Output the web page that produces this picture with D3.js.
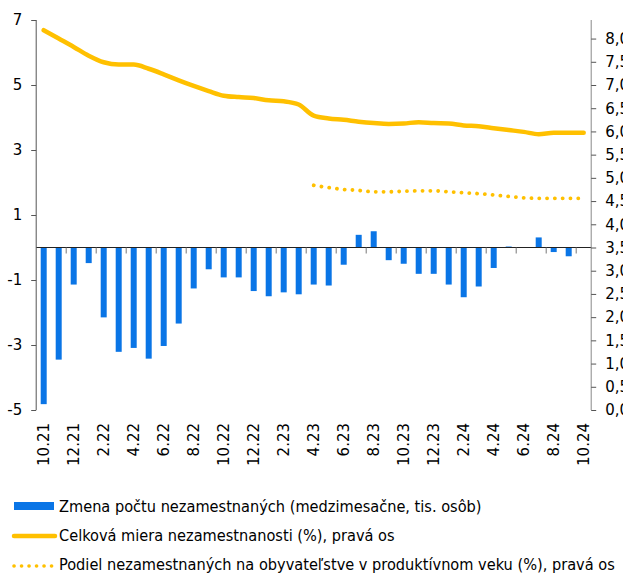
<!DOCTYPE html>
<html>
<head>
<meta charset="utf-8">
<script src="https://cdn.jsdelivr.net/npm/d3@7"></script>
<style>
  body { margin: 0; background: #fff; }
  svg text { font-family: "DejaVu Sans", Verdana, sans-serif; fill: #000; }
</style>
</head>
<body>
<svg width="623" height="576"></svg>
<script>
// months 10.21 .. 10.24
var months = ["10.21","11.21","12.21","1.22","2.22","3.22","4.22","5.22","6.22","7.22","8.22","9.22",
  "10.22","11.22","12.22","1.23","2.23","3.23","4.23","5.23","6.23","7.23","8.23","9.23",
  "10.23","11.23","12.23","1.24","2.24","3.24","4.24","5.24","6.24","7.24","8.24","9.24","10.24"];

// zmena poctu nezamestnanych (tis. osob), left axis
var zmena = [-4.82,-3.45,-1.14,-0.48,-2.15,-3.21,-3.09,-3.42,-3.03,-2.34,-1.26,-0.67,
  -0.92,-0.92,-1.34,-1.50,-1.38,-1.44,-1.14,-1.17,-0.53,0.39,0.50,-0.39,
  -0.50,-0.81,-0.81,-1.14,-1.53,-1.20,-0.63,0.03,0,0.31,-0.14,-0.27,0];

// celkova miera nezamestnanosti (%), right axis
var miera = [8.18,8.00,7.82,7.63,7.49,7.44,7.44,7.35,7.23,7.10,6.98,6.87,
  6.77,6.74,6.72,6.67,6.65,6.58,6.34,6.28,6.25,6.21,6.18,6.16,
  6.17,6.20,6.18,6.17,6.13,6.11,6.07,6.03,5.99,5.94,5.97,5.97,5.97];

// podiel na obyvatelstve v produktivnom veku (%), right axis, from 4.23
var podiel = [null,null,null,null,null,null,null,null,null,null,null,null,
  null,null,null,null,null,null,4.84,4.79,4.75,4.73,4.70,4.70,
  4.71,4.72,4.72,4.70,4.68,4.66,4.63,4.60,4.57,4.56,4.56,4.56,4.56];

var leftTicks = [-5,-3,-1,1,3,5,7];
var rightTicks = d3.range(0, 8.01, 0.5);

var legendLabels = [
  "Zmena počtu nezamestnaných (medzimesačne, tis. osôb)",
  "Celková miera nezamestnanosti (%), pravá os",
  "Podiel nezamestnaných na obyvateľstve v produktívnom veku (%), pravá os"
];

var blue = "#0a75e6", yellow = "#ffc000";

var svg = d3.select("svg");
// plot box (window.top is reserved, so no "top" here)
var pL = 36.2, pR = 591.2, pT = 20, pB = 410;

var xs = d3.scaleLinear().domain([0, months.length]).range([pL, pR]);
var yL = d3.scaleLinear().domain([-5, 7]).range([pB, pT]);
var yR = d3.scaleLinear().domain([0, 8.4]).range([pB, pT]);

// bars
svg.append("g").selectAll("rect")
  .data(zmena)
  .enter().append("rect")
    .attr("x", function(d, i) { return xs(i + 0.5) - 3; })
    .attr("width", 6)
    .attr("y", function(d) { return yL(Math.max(0, d)); })
    .attr("height", function(d) { return Math.abs(yL(d) - yL(0)); })
    .attr("fill", blue);

// category axis at zero
svg.append("line")
  .attr("x1", pL).attr("x2", pR)
  .attr("y1", yL(0)).attr("y2", yL(0))
  .attr("stroke", "#222").attr("stroke-width", 1);
svg.append("g").selectAll("line")
  .data(d3.range(2, months.length, 2))
  .enter().append("line")
    .attr("x1", function(d) { return xs(d); }).attr("x2", function(d) { return xs(d); })
    .attr("y1", yL(0)).attr("y2", yL(0) + 6)
    .attr("stroke", "#777");

// x labels
svg.append("g").selectAll("text")
  .data(months.filter(function(d, i) { return i % 2 === 0; }))
  .enter().append("text")
    .attr("transform", function(d) { return "translate(" + xs(months.indexOf(d) + 0.5) + ",423) rotate(-90)"; })
    .attr("text-anchor", "end")
    .attr("dy", "0.35em")
    .style("font-size", "15px")
    .text(function(d) { return d; });

// left axis (plain hyphen for minus, like the original)
var gl = svg.append("g").attr("transform", "translate(" + pL + ",0)")
  .call(d3.axisLeft(yL).tickValues(leftTicks).tickSize(5).tickPadding(9).tickFormat(function(d) { return String(d); }));
gl.select(".domain").attr("stroke", "#555").attr("d", "M0," + pT + "V" + pB);
gl.selectAll(".tick line").attr("stroke", "#555");
gl.selectAll("text").style("font-size", "15px").attr("font-family", null);

// right axis
var fmt = function(d) { return d3.format(".1f")(d).replace(".", ","); };
var gr = svg.append("g").attr("transform", "translate(" + pR + ",0)")
  .call(d3.axisRight(yR).tickValues(rightTicks).tickSize(5).tickPadding(9).tickFormat(fmt));
gr.select(".domain").attr("stroke", "#888").attr("d", "M0," + pT + "V" + pB);
gr.selectAll(".tick line").attr("stroke", "#555");
gr.selectAll("text").style("font-size", "15px").attr("font-family", null);

// lines
var line = d3.line()
  .defined(function(d) { return d != null; })
  .x(function(d, i) { return xs(i + 0.5); })
  .y(function(d) { return yR(d); })
  .curve(d3.curveMonotoneX);

svg.append("path")
  .attr("d", line(miera))
  .attr("fill", "none").attr("stroke", yellow).attr("stroke-width", 4.5)
  .attr("stroke-linejoin", "round").attr("stroke-linecap", "round");

svg.append("path")
  .attr("d", line(podiel))
  .attr("fill", "none").attr("stroke", yellow).attr("stroke-width", 3.8)
  .attr("stroke-dasharray", "0.1 7.7").attr("stroke-linecap", "round");

// legend
var lg = svg.append("g");
lg.append("rect").attr("x", 14).attr("y", 502).attr("width", 40).attr("height", 8).attr("fill", blue);
lg.append("line").attr("x1", 14).attr("x2", 55).attr("y1", 536).attr("y2", 536)
  .attr("stroke", yellow).attr("stroke-width", 4.5).attr("stroke-linecap", "round");
lg.append("line").attr("x1", 14).attr("x2", 55).attr("y1", 566).attr("y2", 566)
  .attr("stroke", yellow).attr("stroke-width", 3.6).attr("stroke-dasharray", "0.1 7.4").attr("stroke-linecap", "round");
lg.selectAll("text.lbl")
  .data(legendLabels)
  .enter().append("text")
    .attr("class", "lbl")
    .attr("x", 59)
    .attr("y", function(d, i) { return 512 + i * 29; })
    .style("font-family", "'DejaVu Sans Condensed', 'DejaVu Sans', sans-serif")
    .style("font-size", "16.2px")
    .text(function(d) { return d; });
</script>
</body>
</html>
